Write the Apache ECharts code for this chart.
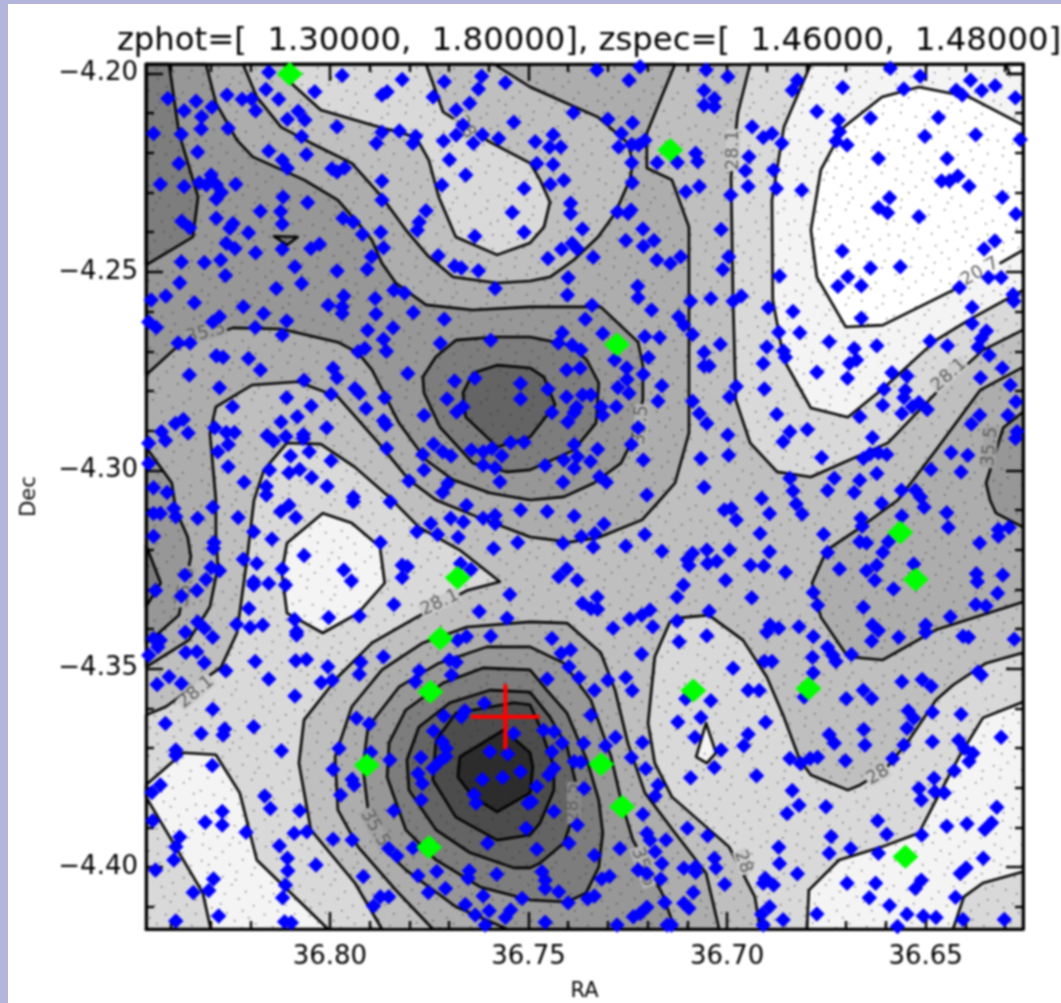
<!DOCTYPE html>
<html><head><meta charset="utf-8">
<style>
html,body{margin:0;padding:0;width:1061px;height:1003px;background:#b3b5dd;overflow:hidden}
#paper{position:absolute;left:8px;top:4px;right:0;bottom:0;background:#fff}
#chart{position:absolute;left:0;top:0;width:1061px;height:1003px;filter:blur(0.8px)}
</style>
<script src="https://cdn.jsdelivr.net/npm/echarts@6/dist/echarts.min.js"></script>
</head><body><div id="paper"></div><div id="chart"></div>
<script>
const raLeft=36.8463, raRight=36.6255, decTop=-4.1976, decBottom=-4.4156;
const raMajor=[36.80,36.75,36.70,36.65];
const raMinor=[36.84,36.83,36.82,36.81,36.79,36.78,36.77,36.76,36.74,36.73,36.72,36.71,36.69,36.68,36.67,36.66,36.64,36.63];
const decMajor=[-4.20,-4.25,-4.30,-4.35,-4.40];
const decMinor=[-4.21,-4.22,-4.23,-4.24,-4.26,-4.27,-4.28,-4.29,-4.31,-4.32,-4.33,-4.34,-4.36,-4.37,-4.38,-4.39,-4.41];
const titleText='zphot=[  1.30000,  1.80000], zspec=[  1.46000,  1.48000]';

const levelOuterTop=[[36.7131,-4.1976],[36.7202,-4.2150],[36.7202,-4.2238],[36.7139,-4.2268],[36.7096,-4.2387],[36.7096,-4.2906],[36.7131,-4.3032],[36.7169,-4.3075],[36.7214,-4.3125],[36.7325,-4.3170],[36.7396,-4.3181],[36.7496,-4.3168],[36.7640,-4.3113],[36.7733,-4.3075],[36.7801,-4.3024],[36.7869,-4.2941],[36.7929,-4.2873],[36.7980,-4.2815],[36.8081,-4.2777],[36.8196,-4.2785],[36.8287,-4.2840],[36.8302,-4.2906],[36.8287,-4.3075],[36.8287,-4.3158],[36.8282,-4.3244],[36.8302,-4.3344],[36.8355,-4.3428],[36.8463,-4.3496],[36.8463,-4.1976]];
const topHollow=[[36.8219,-4.1976],[36.8184,-4.2059],[36.8123,-4.2135],[36.8048,-4.2175],[36.7945,-4.2226],[36.7869,-4.2311],[36.7809,-4.2394],[36.7751,-4.2462],[36.7690,-4.2513],[36.7579,-4.2528],[36.7496,-4.2523],[36.7446,-4.2513],[36.7386,-4.2470],[36.7325,-4.2412],[36.7282,-4.2352],[36.7245,-4.2268],[36.7237,-4.2226],[36.7250,-4.2175],[36.7325,-4.2110],[36.7496,-4.2034],[36.7587,-4.1976]];
const topLight=[[36.8113,-4.1976],[36.8098,-4.2024],[36.8023,-4.2092],[36.7894,-4.2130],[36.7783,-4.2160],[36.7751,-4.2218],[36.7726,-4.2311],[36.7683,-4.2412],[36.7579,-4.2457],[36.7496,-4.2427],[36.7461,-4.2387],[36.7446,-4.2324],[36.7471,-4.2268],[36.7496,-4.2226],[36.7597,-4.2173],[36.7715,-4.2097],[36.7758,-4.1976]];
const ridge355=[[36.8463,-4.2760],[36.8385,-4.2689],[36.8244,-4.2641],[36.8123,-4.2644],[36.7980,-4.2677],[36.7929,-4.2704],[36.7894,-4.2747],[36.7826,-4.2881],[36.7758,-4.2974],[36.7690,-4.3024],[36.7597,-4.3057],[36.7496,-4.3075],[36.7411,-4.3067],[36.7335,-4.3032],[36.7267,-4.2982],[36.7242,-4.2931],[36.7212,-4.2823],[36.7212,-4.2735],[36.7224,-4.2677],[36.7318,-4.2588],[36.7496,-4.2588],[36.7640,-4.2596],[36.7758,-4.2583],[36.7834,-4.2528],[36.7869,-4.2478],[36.7894,-4.2420],[36.7929,-4.2377],[36.7980,-4.2319],[36.8065,-4.2268],[36.8194,-4.2210],[36.8234,-4.2168],[36.8287,-4.2074],[36.8312,-4.1976],[36.8463,-4.1976]];
const cornerPeak=[[36.8405,-4.1976],[36.8380,-4.2150],[36.8332,-4.2311],[36.8345,-4.2412],[36.8463,-4.2483],[36.8463,-4.1976]];
const smallTriangle=[[36.8141,-4.2410],[36.8081,-4.2412],[36.8108,-4.2432]];
const upperBlob=[[36.7766,-4.2765],[36.7733,-4.2714],[36.7683,-4.2672],[36.7587,-4.2664],[36.7496,-4.2664],[36.7396,-4.2684],[36.7353,-4.2722],[36.7323,-4.2780],[36.7330,-4.2881],[36.7386,-4.2949],[36.7496,-4.2999],[36.7554,-4.3004],[36.7640,-4.2982],[36.7723,-4.2891],[36.7763,-4.2805]];
const upperCore=[[36.7665,-4.2805],[36.7640,-4.2755],[36.7579,-4.2735],[36.7496,-4.2742],[36.7461,-4.2765],[36.7433,-4.2835],[36.7496,-4.2916],[36.7579,-4.2941],[36.7658,-4.2866]];
const leftEdge=[[36.8463,-4.2941],[36.8398,-4.3032],[36.8388,-4.3100],[36.8358,-4.3168],[36.8350,-4.3218],[36.8380,-4.3365],[36.8431,-4.3410],[36.8463,-4.3435]];
const leftEdgeCore=[[36.8463,-4.3188],[36.8426,-4.3284],[36.8463,-4.3344]];
const leftLight=[[36.8463,-4.3617],[36.8413,-4.3596],[36.8274,-4.3496],[36.8234,-4.3410],[36.8209,-4.3226],[36.8191,-4.3075],[36.8166,-4.2999],[36.8108,-4.2931],[36.8023,-4.2934],[36.7937,-4.2992],[36.7851,-4.3067],[36.7776,-4.3143],[36.7673,-4.3201],[36.7572,-4.3281],[36.7653,-4.3302],[36.7781,-4.3370],[36.7894,-4.3435],[36.7980,-4.3521],[36.8065,-4.3629],[36.8078,-4.3738],[36.8048,-4.3906],[36.7937,-4.4040],[36.7869,-4.4156],[36.8463,-4.4156]];
const lowerLeftPale=[[36.8463,-4.3793],[36.8370,-4.3712],[36.8287,-4.3717],[36.8227,-4.3813],[36.8184,-4.3982],[36.8005,-4.4156],[36.8300,-4.4156],[36.8320,-4.4065],[36.8463,-4.3823]];
const centerPale=[[36.8018,-4.3108],[36.7945,-4.3133],[36.7874,-4.3193],[36.7862,-4.3284],[36.7929,-4.3360],[36.8018,-4.3410],[36.8108,-4.3360],[36.8121,-4.3259],[36.8108,-4.3183]];
const rightLight=[[36.6917,-4.4156],[36.6930,-4.4075],[36.6995,-4.3949],[36.7139,-4.3823],[36.7182,-4.3738],[36.7199,-4.3637],[36.7182,-4.3470],[36.7144,-4.3382],[36.7121,-4.3372],[36.7046,-4.3365],[36.6960,-4.3428],[36.6900,-4.3521],[36.6857,-4.3622],[36.6817,-4.3730],[36.6789,-4.3768],[36.6696,-4.3806],[36.6665,-4.3793],[36.6603,-4.3755],[36.6542,-4.3680],[36.6474,-4.3579],[36.6431,-4.3541],[36.6348,-4.3486],[36.6255,-4.3460],[36.6255,-4.4156]];
const lowerRightPale=[[36.6799,-4.4156],[36.6794,-4.4058],[36.6718,-4.3982],[36.6610,-4.3949],[36.6517,-4.3914],[36.6474,-4.3831],[36.6416,-4.3722],[36.6356,-4.3624],[36.6255,-4.3584],[36.6255,-4.4012],[36.6356,-4.4040],[36.6404,-4.4075],[36.6431,-4.4156]];
const tinyPale=[[36.7053,-4.3637],[36.7028,-4.3712],[36.7051,-4.3738],[36.7078,-4.3722]];
const topRightLight=[[36.6942,-4.1976],[36.6973,-4.2100],[36.6990,-4.2261],[36.6985,-4.2571],[36.6978,-4.2823],[36.6942,-4.2931],[36.6874,-4.3004],[36.6789,-4.3017],[36.6595,-4.2931],[36.6474,-4.2805],[36.6356,-4.2697],[36.6255,-4.2646],[36.6255,-4.1976]];
const topRightPale=[[36.6789,-4.1976],[36.6857,-4.2135],[36.6887,-4.2319],[36.6885,-4.2571],[36.6857,-4.2722],[36.6789,-4.2843],[36.6696,-4.2866],[36.6603,-4.2790],[36.6474,-4.2672],[36.6391,-4.2621],[36.6255,-4.2546],[36.6255,-4.1976]];
const topRightWhite=[[36.6255,-4.2130],[36.6391,-4.2059],[36.6517,-4.2034],[36.6610,-4.2059],[36.6706,-4.2135],[36.6764,-4.2243],[36.6789,-4.2394],[36.6774,-4.2513],[36.6701,-4.2639],[36.6608,-4.2634],[36.6431,-4.2546],[36.6255,-4.2445]];
const cornerWhite=[[36.6298,-4.1976],[36.6288,-4.2001],[36.6255,-4.2001],[36.6255,-4.1976]];
const rightRise=[[36.6255,-4.2740],[36.6363,-4.2798],[36.6474,-4.2949],[36.6570,-4.3075],[36.6663,-4.3143],[36.6749,-4.3201],[36.6786,-4.3284],[36.6764,-4.3370],[36.6696,-4.3470],[36.6608,-4.3478],[36.6474,-4.3402],[36.6255,-4.3332]];
const rightRiseCore=[[36.6255,-4.2853],[36.6305,-4.2893],[36.6348,-4.3032],[36.6338,-4.3075],[36.6323,-4.3108],[36.6255,-4.3143]];
const ring1=[[36.7496,-4.3382],[36.7655,-4.3395],[36.7766,-4.3435],[36.7869,-4.3503],[36.7945,-4.3596],[36.7987,-4.3722],[36.7980,-4.3856],[36.7929,-4.3949],[36.7834,-4.4058],[36.7741,-4.4156],[36.7020,-4.4156],[36.7053,-4.4015],[36.7131,-4.3914],[36.7207,-4.3813],[36.7250,-4.3687],[36.7282,-4.3554],[36.7318,-4.3460],[36.7403,-4.3385]];
const ring2=[[36.7496,-4.3445],[36.7605,-4.3445],[36.7726,-4.3486],[36.7826,-4.3546],[36.7904,-4.3647],[36.7917,-4.3748],[36.7904,-4.3856],[36.7869,-4.3949],[36.7809,-4.4007],[36.7683,-4.4100],[36.7554,-4.4156],[36.7131,-4.4156],[36.7164,-4.4065],[36.7237,-4.3932],[36.7267,-4.3831],[36.7292,-4.3722],[36.7343,-4.3579],[36.7411,-4.3486]];
const ring3=[[36.7496,-4.3503],[36.7615,-4.3498],[36.7715,-4.3536],[36.7809,-4.3604],[36.7851,-4.3687],[36.7856,-4.3773],[36.7809,-4.3906],[36.7733,-4.3982],[36.7622,-4.4050],[36.7496,-4.4083],[36.7403,-4.4088],[36.7355,-4.4065],[36.7323,-4.4000],[36.7313,-4.3914],[36.7323,-4.3831],[36.7353,-4.3730],[36.7403,-4.3612],[36.7454,-4.3554]];
const ring4=[[36.7496,-4.3559],[36.7597,-4.3554],[36.7698,-4.3586],[36.7776,-4.3647],[36.7806,-4.3730],[36.7801,-4.3806],[36.7733,-4.3906],[36.7647,-4.3964],[36.7537,-4.4002],[36.7496,-4.4002],[36.7471,-4.3990],[36.7411,-4.3939],[36.7391,-4.3881],[36.7381,-4.3788],[36.7403,-4.3697],[36.7446,-4.3622]];
const ring5=[[36.7537,-4.3586],[36.7683,-4.3612],[36.7733,-4.3680],[36.7741,-4.3780],[36.7683,-4.3874],[36.7579,-4.3932],[36.7496,-4.3919],[36.7471,-4.3889],[36.7436,-4.3806],[36.7436,-4.3748],[36.7471,-4.3647],[36.7496,-4.3591]];
const ring6=[[36.7562,-4.3654],[36.7673,-4.3722],[36.7678,-4.3773],[36.7640,-4.3823],[36.7579,-4.3861],[36.7496,-4.3813],[36.7489,-4.3748],[36.7496,-4.3712]];

const contourLabels=[['28.1',36.6985,-4.2193,90],['20.7',36.6363,-4.2500,30],['28.1',36.6441,-4.2760,42],['35.5',36.6338,-4.2941,85],['35.5',36.7217,-4.2886,85],['35.5',36.8312,-4.2654,15],['28',36.7660,-4.2135,-60],['28.1',36.8337,-4.3559,40],['28.1',36.7723,-4.3334,25],['35.5',36.8363,-4.3294,80],['35.5',36.7887,-4.3902,-60],['28.5',36.7386,-4.3838,90],['35.5',36.7212,-4.4000,-70],['28',36.6620,-4.3768,30],['28',36.6960,-4.3987,-70]];
const labelBacks=['#cbcbcb','#f9f9f9','#cbcbcb','#a2a2a2','#b4b4b4','#a2a2a2','#cbcbcb','#cbcbcb','#cbcbcb','#a2a2a2','#a2a2a2','#8a8a8a','#b4b4b4','#cbcbcb','#cbcbcb'];

const specObjects=[[36.8101,-4.2001],[36.7143,-4.2193],[36.7277,-4.2683],[36.7678,-4.3271],[36.7722,-4.3424],[36.7747,-4.3558],[36.7907,-4.3743],[36.7750,-4.3950],[36.7317,-4.3741],[36.7264,-4.3848],[36.7085,-4.3555],[36.6795,-4.3550],[36.6564,-4.3157],[36.6525,-4.3275],[36.6551,-4.3974]];
const targetPosition=[[36.7558,-4.3621]];
const blueGalaxies=[
[36.8154,-4.1997],[36.7969,-4.2005],[36.7818,-4.2015],[36.7712,-4.2021],[36.7618,-4.2007],[36.7558,-4.2023],[36.8038,-4.2046],[36.8161,-4.2040],[36.7856,-4.2046],[36.7869,-4.2054],[36.7626,-4.2039],[36.8408,-4.2063],[36.8337,-4.2070],[36.8259,-4.2054],[36.8221,-4.2065],[36.8197,-4.2064],[36.8129,-4.2065],[36.7740,-4.2059],[36.7648,-4.2075],[36.7682,-4.2092],[36.8367,-4.2094],[36.8297,-4.2085],[36.8187,-4.2094],[36.8080,-4.2095],[36.8063,-4.2117],[36.8107,-4.2115],[36.8323,-4.2109],[36.7537,-4.2123],[36.7665,-4.2130],[36.8324,-4.2140],[36.8444,-4.2151],[36.8374,-4.2153],[36.8256,-4.2138],[36.7982,-4.2134],[36.7869,-4.2148],[36.7825,-4.2145],[36.7682,-4.2155],[36.7616,-4.2154],[36.7575,-4.2164],[36.7639,-4.2176],[36.7784,-4.2158],[36.7791,-4.2176],[36.7883,-4.2176],[36.8071,-4.2159],[36.7714,-4.2170],[36.8154,-4.2195],[36.8333,-4.2198],[36.8059,-4.2204],[36.8120,-4.2218],[36.8380,-4.2227],[36.8107,-4.2239],[36.7699,-4.2217],[36.7963,-4.2238],[36.7995,-4.2240],[36.7982,-4.2248],[36.7658,-4.2256],[36.8299,-4.2256],[36.8427,-4.2279],[36.8367,-4.2285],[36.8329,-4.2275],[36.8311,-4.2281],[36.8286,-4.2280],[36.8237,-4.2279],[36.7869,-4.2271],[36.7718,-4.2281],[36.7511,-4.2290],[36.8273,-4.2300],[36.8286,-4.2316],[36.8118,-4.2311],[36.8056,-4.2325],[36.7869,-4.2319],[36.8175,-4.2347],[36.8124,-4.2348],[36.7758,-4.2346],[36.7541,-4.2350],[36.7775,-4.2374],[36.7967,-4.2365],[36.8286,-4.2365],[36.8120,-4.2379],[36.8373,-4.2372],[36.8244,-4.2378],[36.8353,-4.2389],[36.7941,-4.2374],[36.8252,-4.2390],[36.8205,-4.2401],[36.7918,-4.2405],[36.7872,-4.2400],[36.7780,-4.2395],[36.7635,-4.2410],[36.7511,-4.2400],[36.8261,-4.2428],[36.8239,-4.2441],[36.8026,-4.2430],[36.8048,-4.2441],[36.8187,-4.2452],[36.8120,-4.2443],[36.7865,-4.2439],[36.7895,-4.2462],[36.7727,-4.2459],[36.8374,-4.2475],[36.8316,-4.2476],[36.8275,-4.2470],[36.7686,-4.2485],[36.7669,-4.2490],[36.7626,-4.2497],[36.8088,-4.2487],[36.7982,-4.2498],[36.7906,-4.2493],[36.8263,-4.2509],[36.8378,-4.2527],[36.8071,-4.2529],[36.7584,-4.2542],[36.8135,-4.2542],[36.7839,-4.2546],[36.7812,-4.2553],[36.8413,-4.2561],[36.8450,-4.2571],[36.7965,-4.2561],[36.7886,-4.2567],[36.8341,-4.2578],[36.8218,-4.2588],[36.8004,-4.2584],[36.7969,-4.2588],[36.8167,-4.2605],[36.7969,-4.2605],[36.7884,-4.2606],[36.7790,-4.2602],[36.8278,-4.2613],[36.8295,-4.2626],[36.8109,-4.2624],[36.7712,-4.2619],[36.8456,-4.2626],[36.8437,-4.2640],[36.7841,-4.2641],[36.7905,-4.2647],[36.8120,-4.2659],[36.8188,-4.2640],[36.7865,-4.2670],[36.8382,-4.2679],[36.8352,-4.2679],[36.7722,-4.2680],[36.7595,-4.2672],[36.7912,-4.2693],[36.7929,-4.2701],[36.7858,-4.2700],[36.8286,-4.2711],[36.8269,-4.2715],[36.8205,-4.2718],[36.7992,-4.2743],[36.8175,-4.2747],[36.7804,-4.2756],[36.7982,-4.2767],[36.8354,-4.2760],[36.8065,-4.2773],[36.7635,-4.2768],[36.7686,-4.2775],[36.7520,-4.2781],[36.8278,-4.2792],[36.7937,-4.2794],[36.7926,-4.2806],[36.7997,-4.2808],[36.8109,-4.2817],[36.7862,-4.2817],[36.7705,-4.2820],[36.7520,-4.2820],[36.8245,-4.2840],[36.8047,-4.2838],[36.7909,-4.2844],[36.7665,-4.2840],[36.7681,-4.2853],[36.8369,-4.2872],[36.8389,-4.2882],[36.8082,-4.2865],[36.8123,-4.2878],[36.7763,-4.2861],[36.7865,-4.2875],[36.7859,-4.2886],[36.8008,-4.2893],[36.8290,-4.2893],[36.8424,-4.2903],[36.8261,-4.2905],[36.8240,-4.2905],[36.8357,-4.2906],[36.8067,-4.2910],[36.8158,-4.2912],[36.8142,-4.2926],[36.8111,-4.2915],[36.8067,-4.2920],[36.8414,-4.2925],[36.8456,-4.2932],[36.8256,-4.2935],[36.7739,-4.2934],[36.7545,-4.2930],[36.7511,-4.2929],[36.7857,-4.2945],[36.7766,-4.2960],[36.7716,-4.2953],[36.7695,-4.2964],[36.7644,-4.2949],[36.7614,-4.2953],[36.7592,-4.2945],[36.7567,-4.2963],[36.8282,-4.2953],[36.8099,-4.2964],[36.8052,-4.2953],[36.7997,-4.2976],[36.7614,-4.2987],[36.7584,-4.2994],[36.8456,-4.2983],[36.8256,-4.2991],[36.8152,-4.2999],[36.8103,-4.3006],[36.8076,-4.2998],[36.7763,-4.2999],[36.8046,-4.3018],[36.7801,-4.3027],[36.8216,-4.3030],[36.7572,-4.3029],[36.7703,-4.3033],[36.8444,-4.3044],[36.8410,-4.3056],[36.8007,-4.3041],[36.8160,-4.3041],[36.7716,-4.3056],[36.7941,-4.3067],[36.8160,-4.3062],
[36.7328,-4.1991],[36.7219,-4.1983],[36.7053,-4.1991],[36.6998,-4.2008],[36.7247,-4.2017],[36.6823,-4.2017],[36.6514,-4.2007],[36.6589,-4.1987],[36.6387,-4.2017],[36.6325,-4.2031],[36.6709,-4.2035],[36.6836,-4.2042],[36.7058,-4.2043],[36.6555,-4.2039],[36.6423,-4.2042],[36.6408,-4.2054],[36.6359,-4.2043],[36.6274,-4.2061],[36.7032,-4.2063],[36.7058,-4.2080],[36.7032,-4.2084],[36.7387,-4.2099],[36.6774,-4.2096],[36.6639,-4.2112],[36.6468,-4.2111],[36.7300,-4.2115],[36.7238,-4.2124],[36.6720,-4.2117],[36.6937,-4.2134],[36.7266,-4.2151],[36.6717,-4.2147],[36.6502,-4.2158],[36.6374,-4.2154],[36.6909,-4.2161],[36.6887,-4.2151],[36.7438,-4.2154],[36.7483,-4.2172],[36.7207,-4.2168],[36.7447,-4.2186],[36.7419,-4.2185],[36.7273,-4.2185],[36.7240,-4.2179],[36.7223,-4.2180],[36.6862,-4.2176],[36.6726,-4.2170],[36.6698,-4.2180],[36.6262,-4.2166],[36.7079,-4.2201],[36.6945,-4.2210],[36.6619,-4.2214],[36.6446,-4.2214],[36.7479,-4.2227],[36.7438,-4.2229],[36.7074,-4.2222],[36.7125,-4.2224],[36.7176,-4.2225],[36.7240,-4.2225],[36.6954,-4.2245],[36.6883,-4.2243],[36.6460,-4.2271],[36.6440,-4.2271],[36.6419,-4.2258],[36.7239,-4.2275],[36.7445,-4.2279],[36.7411,-4.2269],[36.6947,-4.2285],[36.7070,-4.2285],[36.6876,-4.2290],[36.6812,-4.2294],[36.6391,-4.2284],[36.7104,-4.2298],[36.6991,-4.2306],[36.6591,-4.2313],[36.6307,-4.2312],[36.7394,-4.2327],[36.7242,-4.2344],[36.7276,-4.2349],[36.7394,-4.2353],[36.7249,-4.2353],[36.6619,-4.2338],[36.6596,-4.2351],[36.6517,-4.2361],[36.6273,-4.2354],[36.7015,-4.2393],[36.7212,-4.2392],[36.7364,-4.2392],[36.7255,-4.2421],[36.7184,-4.2421],[36.7211,-4.2435],[36.7390,-4.2428],[36.6326,-4.2422],[36.6353,-4.2442],[36.7417,-4.2443],[36.7377,-4.2442],[36.6710,-4.2447],[36.7117,-4.2462],[36.6996,-4.2462],[36.7451,-4.2466],[36.7337,-4.2463],[36.7177,-4.2470],[36.7143,-4.2479],[36.6639,-4.2490],[36.6564,-4.2487],[36.7011,-4.2494],[36.6868,-4.2510],[36.7400,-4.2515],[36.6696,-4.2512],[36.6342,-4.2514],[36.6310,-4.2514],[36.7225,-4.2536],[36.6721,-4.2536],[36.6662,-4.2535],[36.6415,-4.2539],[36.7402,-4.2558],[36.7224,-4.2565],[36.6280,-4.2557],[36.6278,-4.2574],[36.7041,-4.2567],[36.7092,-4.2574],[36.6964,-4.2561],[36.6985,-4.2574],[36.7340,-4.2584],[36.6896,-4.2590],[36.7190,-4.2596],[36.6834,-4.2600],[36.6383,-4.2589],[36.7357,-4.2619],[36.7122,-4.2613],[36.6662,-4.2617],[36.7109,-4.2634],[36.6383,-4.2630],[36.6347,-4.2649],[36.7415,-4.2653],[36.7313,-4.2655],[36.7087,-4.2658],[36.6870,-4.2652],[36.6817,-4.2653],[36.7207,-4.2663],[36.7170,-4.2665],[36.6360,-4.2668],[36.6743,-4.2676],[36.6489,-4.2674],[36.7425,-4.2679],[36.7390,-4.2684],[36.7017,-4.2682],[36.6900,-4.2689],[36.6623,-4.2686],[36.6445,-4.2686],[36.6368,-4.2689],[36.7368,-4.2697],[36.6680,-4.2693],[36.6858,-4.2699],[36.7058,-4.2703],[36.6340,-4.2710],[36.7198,-4.2716],[36.6853,-4.2715],[36.7283,-4.2722],[36.6674,-4.2722],[36.6909,-4.2731],[36.6692,-4.2731],[36.7058,-4.2737],[36.7045,-4.2737],[36.6307,-4.2742],[36.7404,-4.2747],[36.7370,-4.2743],[36.7253,-4.2742],[36.6774,-4.2753],[36.6585,-4.2754],[36.6547,-4.2762],[36.7211,-4.2758],[36.6362,-4.2767],[36.6697,-4.2768],[36.7252,-4.2771],[36.6605,-4.2796],[36.7275,-4.2791],[36.7164,-4.2787],[36.6906,-4.2795],[36.6977,-4.2789],[36.6551,-4.2798],[36.7451,-4.2796],[36.7247,-4.2806],[36.6555,-4.2817],[36.6287,-4.2785],[36.7404,-4.2815],[36.7364,-4.2810],[36.7343,-4.2810],[36.6994,-4.2815],[36.7174,-4.2826],[36.7087,-4.2826],[36.7317,-4.2840],[36.7279,-4.2840],[36.7379,-4.2841],[36.6608,-4.2836],[36.6517,-4.2829],[36.6534,-4.2840],[36.6496,-4.2847],[36.7441,-4.2854],[36.7313,-4.2861],[36.7385,-4.2854],[36.7070,-4.2857],[36.6875,-4.2859],[36.6666,-4.2865],[36.6560,-4.2857],[36.6364,-4.2861],[36.6293,-4.2861],[36.6273,-4.2827],[36.7401,-4.2878],[36.7051,-4.2882],[36.6385,-4.2883],[36.7224,-4.2893],[36.6798,-4.2897],[36.6842,-4.2903],[36.6998,-4.2911],[36.6270,-4.2903],[36.6274,-4.2920],[36.6859,-4.2928],[36.6634,-4.2917],[36.7241,-4.2935],[36.7385,-4.2935],[36.7326,-4.2947],[36.7458,-4.2988],[36.7411,-4.2974],[36.7377,-4.2966],[36.7385,-4.2995],[36.7344,-4.2978],[36.7211,-4.2974],[36.7066,-4.2970],[36.6996,-4.2962],[36.6762,-4.2968],[36.6436,-4.2955],[36.6394,-4.2962],[36.6657,-4.2970],[36.6640,-4.2959],[36.6619,-4.2956],[36.6598,-4.2960],[36.6487,-4.2998],[36.6623,-4.3008],[36.6411,-4.3004],[36.7321,-4.3016],[36.7304,-4.3030],[36.7413,-4.3030],[36.6842,-4.3020],[36.6730,-4.3020],[36.6666,-4.3025],[36.7058,-4.3043],[36.7202,-4.3062],[36.6834,-4.3052],[36.6747,-4.3051],[36.6680,-4.3056],[36.6561,-4.3050],[36.6526,-4.3050],[36.6913,-4.3071],[36.6513,-4.3067],
[36.8444,-4.3109],[36.8427,-4.3109],[36.8393,-4.3096],[36.8388,-4.3117],[36.8295,-4.3093],[36.8333,-4.3121],[36.8231,-4.3119],[36.8124,-4.3104],[36.8103,-4.3088],[36.8086,-4.3119],[36.7941,-4.3079],[36.7848,-4.3079],[36.7656,-4.3088],[36.7746,-4.3134],[36.7696,-4.3121],[36.7664,-4.3130],[36.7614,-4.3121],[36.7584,-4.3113],[36.7584,-4.3134],[36.7520,-4.3100],[36.8192,-4.3155],[36.8146,-4.3173],[36.8444,-4.3166],[36.7781,-4.3155],[36.7729,-4.3162],[36.7677,-4.3169],[36.7873,-4.3182],[36.8292,-4.3182],[36.7588,-4.3197],[36.7527,-4.3182],[36.8293,-4.3197],[36.8065,-4.3215],[36.8218,-4.3224],[36.8184,-4.3235],[36.8299,-4.3245],[36.8278,-4.3253],[36.8120,-4.3249],[36.7965,-4.3251],[36.7818,-4.3239],[36.7805,-4.3243],[36.7671,-4.3235],[36.7645,-4.3250],[36.8365,-4.3264],[36.8312,-4.3275],[36.7946,-4.3279],[36.7818,-4.3270],[36.8192,-4.3281],[36.8154,-4.3285],[36.8112,-4.3289],[36.8192,-4.3289],[36.8439,-4.3303],[36.8335,-4.3303],[36.8374,-4.3317],[36.7839,-4.3338],[36.8204,-4.3348],[36.8003,-4.3371],[36.7926,-4.3367],[36.7624,-4.3356],[36.7554,-4.3373],[36.7547,-4.3313],[36.8089,-4.3376],[36.8333,-4.3382],[36.8235,-4.3388],[36.8201,-4.3396],[36.8169,-4.3390],[36.8316,-4.3398],[36.8364,-4.3408],[36.8084,-4.3407],[36.8084,-4.3415],[36.7656,-4.3419],[36.7678,-4.3428],[36.7595,-4.3418],[36.8444,-4.3424],[36.8427,-4.3428],[36.8295,-4.3421],[36.8433,-4.3445],[36.8456,-4.3466],[36.8363,-4.3459],[36.8335,-4.3457],[36.8086,-4.3480],[36.8059,-4.3477],[36.8188,-4.3482],[36.7865,-4.3470],[36.7922,-4.3484],[36.8316,-4.3485],[36.7699,-4.3478],[36.7682,-4.3484],[36.8005,-4.3495],[36.7775,-4.3505],[36.8262,-4.3505],[36.7926,-4.3514],[36.7694,-4.3516],[36.8405,-4.3520],[36.8154,-4.3526],[36.8374,-4.3537],[36.7994,-4.3529],[36.8022,-4.3535],[36.7785,-4.3533],[36.8435,-4.3540],[36.8088,-4.3569],[36.7611,-4.3587],[36.7660,-4.3606],[36.8295,-4.3602],[36.7933,-4.3625],[36.7901,-4.3639],[36.7713,-4.3619],[36.8414,-4.3638],[36.7669,-4.3621],[36.8192,-4.3646],[36.8265,-4.3652],[36.8269,-4.3667],[36.8324,-4.3663],[36.7739,-4.3657],[36.7537,-4.3663],[36.7717,-4.3684],[36.8388,-4.3705],[36.8388,-4.3718],[36.7977,-4.3701],[36.7707,-4.3701],[36.7708,-4.3721],[36.8122,-4.3707],[36.7597,-4.3709],[36.7552,-4.3715],[36.7897,-4.3711],[36.7771,-4.3724],[36.7849,-4.3730],[36.7724,-4.3734],[36.7741,-4.3751],[36.7992,-4.3754],[36.8296,-4.3744],[36.7778,-4.3764],[36.7520,-4.3760],[36.7944,-4.3779],[36.7939,-4.3793],[36.7767,-4.3789],[36.7616,-4.3779],[36.7565,-4.3774],[36.8427,-4.3793],[36.8448,-4.3812],[36.7973,-4.3818],[36.8164,-4.3821],[36.7637,-4.3817],[36.7770,-4.3831],[36.8150,-4.3852],[36.7632,-4.3839],[36.7839,-4.3858],[36.8076,-4.3858],[36.7501,-4.3839],[36.8271,-4.3860],[36.8314,-4.3887],[36.8271,-4.3894],[36.8446,-4.3883],[36.8211,-4.3912],[36.8058,-4.3911],[36.8090,-4.3915],[36.7506,-4.3902],[36.7992,-4.3930],[36.7944,-4.3932],[36.8127,-4.3946],[36.7603,-4.3940],[36.8378,-4.3924],[36.8388,-4.3949],[36.7852,-4.3953],[36.7791,-4.3952],[36.7831,-4.3972],[36.8107,-4.3978],[36.8393,-4.3982],[36.8035,-4.3995],[36.8439,-4.4007],[36.8106,-4.4009],[36.7916,-4.4024],[36.7778,-4.4022],[36.7731,-4.4011],[36.7649,-4.4009],[36.7580,-4.4018],[36.7652,-4.4028],[36.8293,-4.4030],[36.8112,-4.4045],[36.7709,-4.4054],[36.8344,-4.4064],[36.8305,-4.4059],[36.7752,-4.4064],[36.8119,-4.4077],[36.7873,-4.4075],[36.7852,-4.4075],[36.7614,-4.4073],[36.7516,-4.4079],[36.7890,-4.4098],[36.7659,-4.4094],[36.7634,-4.4121],[36.7599,-4.4110],[36.7545,-4.4108],[36.7558,-4.4127],[36.8280,-4.4123],[36.8388,-4.4136],[36.8114,-4.4138],[36.8097,-4.4140],[36.7609,-4.4146],
[36.7453,-4.3104],[36.7385,-4.3115],[36.7310,-4.3135],[36.6989,-4.3096],[36.7007,-4.3100],[36.6977,-4.3125],[36.6893,-4.3109],[36.6826,-4.3085],[36.6811,-4.3110],[36.6663,-4.3121],[36.6660,-4.3141],[36.6611,-4.3083],[36.6560,-4.3115],[36.6504,-4.3093],[36.6447,-4.3107],[36.6443,-4.3144],[36.6917,-4.3159],[36.7207,-4.3162],[36.7367,-4.3167],[36.7333,-4.3159],[36.6757,-4.3161],[36.6317,-4.3149],[36.6290,-4.3144],[36.6317,-4.3166],[36.6666,-4.3180],[36.6649,-4.3183],[36.6594,-4.3180],[36.6364,-4.3183],[36.7413,-4.3184],[36.7337,-4.3193],[36.7255,-4.3191],[36.7164,-4.3204],[36.7051,-4.3201],[36.6994,-4.3201],[36.6893,-4.3205],[36.6608,-4.3207],[36.6747,-4.3207],[36.7087,-4.3209],[36.7100,-4.3225],[36.7096,-4.3240],[36.7049,-4.3235],[36.7026,-4.3229],[36.6941,-4.3239],[36.6907,-4.3241],[36.6530,-4.3236],[36.6623,-4.3239],[36.7404,-4.3249],[36.7424,-4.3268],[36.7377,-4.3277],[36.6853,-4.3257],[36.6717,-4.3249],[36.6649,-4.3253],[36.6372,-4.3261],[36.6628,-4.3277],[36.6370,-4.3281],[36.6306,-4.3264],[36.7004,-4.3277],[36.7110,-4.3289],[36.6581,-4.3299],[36.6783,-4.3308],[36.7126,-4.3319],[36.6938,-4.3321],[36.6319,-4.3310],[36.7327,-4.3320],[36.7364,-4.3335],[36.7343,-4.3348],[36.7326,-4.3350],[36.6772,-4.3340],[36.6657,-4.3345],[36.6374,-4.3338],[36.6348,-4.3342],[36.7194,-4.3352],[36.7215,-4.3365],[36.7045,-4.3355],[36.7245,-4.3375],[36.6438,-4.3369],[36.7126,-4.3380],[36.7187,-4.3394],[36.7287,-4.3398],[36.6892,-4.3390],[36.6870,-4.3398],[36.6819,-4.3394],[36.6900,-4.3408],[36.6634,-4.3390],[36.6619,-4.3404],[36.6500,-4.3390],[36.6500,-4.3408],[36.6406,-4.3418],[36.6392,-4.3421],[36.6277,-4.3426],[36.6783,-4.3419],[36.6568,-4.3421],[36.6636,-4.3430],[36.7441,-4.3424],[36.7051,-4.3417],[36.7121,-4.3432],[36.6747,-4.3446],[36.7418,-4.3461],[36.7394,-4.3453],[36.7215,-4.3463],[36.6734,-4.3466],[36.6785,-4.3471],[36.6906,-4.3481],[36.6887,-4.3482],[36.6687,-4.3464],[36.6726,-4.3482],[36.7398,-4.3495],[36.6985,-4.3499],[36.6368,-4.3508],[36.6360,-4.3516],[36.6783,-4.3510],[36.7373,-4.3523],[36.7255,-4.3522],[36.7300,-4.3529],[36.7334,-4.3554],[36.7239,-4.3555],[36.7453,-4.3526],[36.6560,-4.3533],[36.6509,-4.3527],[36.6486,-4.3544],[36.6947,-4.3554],[36.6919,-4.3555],[36.6657,-4.3554],[36.6700,-4.3576],[36.6636,-4.3575],[36.7041,-4.3581],[36.7104,-4.3576],[36.6806,-4.3571],[36.7343,-4.3617],[36.6544,-4.3606],[36.6530,-4.3625],[36.6483,-4.3610],[36.6411,-4.3615],[36.7066,-4.3623],[36.7124,-4.3634],[36.6903,-4.3635],[36.6547,-4.3650],[36.6656,-4.3653],[36.6947,-4.3665],[36.6743,-4.3666],[36.7281,-4.3673],[36.7462,-4.3655],[36.7435,-4.3659],[36.7081,-4.3673],[36.6310,-4.3673],[36.6483,-4.3684],[36.6417,-4.3680],[36.7361,-4.3688],[36.7213,-4.3686],[36.6958,-4.3694],[36.6730,-4.3688],[36.6653,-4.3692],[36.6555,-4.3692],[36.6402,-4.3701],[36.7306,-4.3694],[36.7441,-4.3709],[36.7415,-4.3687],[36.7015,-4.3705],[36.6381,-4.3713],[36.6842,-4.3726],[36.6772,-4.3723],[36.6791,-4.3726],[36.6702,-4.3732],[36.6583,-4.3726],[36.6391,-4.3734],[36.7385,-4.3734],[36.7241,-4.3724],[36.6815,-4.3739],[36.7368,-4.3736],[36.7032,-4.3749],[36.7205,-4.3752],[36.7449,-4.3768],[36.7436,-4.3751],[36.6428,-4.3757],[36.6926,-4.3770],[36.7092,-4.3775],[36.6479,-4.3776],[36.7479,-4.3797],[36.7360,-4.3802],[36.7174,-4.3793],[36.6836,-4.3807],[36.6517,-4.3802],[36.6477,-4.3810],[36.6453,-4.3813],[36.7181,-4.3821],[36.6511,-4.3831],[36.6819,-4.3844],[36.6751,-4.3848],[36.6321,-4.3849],[36.7436,-4.3860],[36.6849,-4.3865],[36.7212,-4.3867],[36.7492,-4.3835],[36.6621,-4.3883],[36.6447,-4.3897],[36.6396,-4.3891],[36.6334,-4.3888],[36.6351,-4.3905],[36.7377,-4.3894],[36.7100,-4.3902],[36.7202,-4.3915],[36.6598,-4.3917],[36.7049,-4.3921],[36.6738,-4.3923],[36.7194,-4.3932],[36.7154,-4.3932],[36.6510,-4.3919],[36.7398,-4.3940],[36.6870,-4.3950],[36.7479,-4.3955],[36.7270,-4.3953],[36.6689,-4.3953],[36.6743,-4.3965],[36.7181,-4.3961],[36.6619,-4.3965],[36.7334,-4.3970],[36.7032,-4.3978],[36.6355,-4.3978],[36.7164,-4.3991],[36.6868,-4.3991],[36.7028,-4.4002],[36.7109,-4.4003],[36.7079,-4.3999],[36.7224,-4.4007],[36.7079,-4.4013],[36.6398,-4.4002],[36.6413,-4.4016],[36.6823,-4.4017],[36.7466,-4.4012],[36.7167,-4.4030],[36.7202,-4.4016],[36.7296,-4.4023],[36.7316,-4.4030],[36.6904,-4.4028],[36.7458,-4.4033],[36.6909,-4.4041],[36.6883,-4.4045],[36.7006,-4.4043],[36.6698,-4.4041],[36.6626,-4.4041],[36.6511,-4.4033],[36.6526,-4.4054],[36.7458,-4.4054],[36.7424,-4.4062],[36.7085,-4.4064],[36.6642,-4.4077],[36.6425,-4.4076],[36.7334,-4.4073],[36.7351,-4.4080],[36.7400,-4.4090],[36.7157,-4.4089],[36.7109,-4.4091],[36.7096,-4.4104],[36.6893,-4.4100],[36.6591,-4.4097],[36.7202,-4.4101],[36.7219,-4.4117],[36.7236,-4.4125],[36.6913,-4.4119],[36.6774,-4.4118],[36.6859,-4.4133],[36.6547,-4.4119],[36.6506,-4.4123],[36.6474,-4.4127],[36.6302,-4.4132],[36.6406,-4.4132],[36.7458,-4.4139],[36.7277,-4.4146],[36.7151,-4.4146],[36.7140,-4.4146],[36.6909,-4.4146],[36.6571,-4.4150]
];

const contourLayers=[
[levelOuterTop,'#adadad'],[topHollow,'#bfbfbf'],[topLight,'#d9d9d9'],[ridge355,'#979797'],[cornerPeak,'#7d7d7d'],[smallTriangle,'#7d7d7d'],[upperBlob,'#7d7d7d'],[upperCore,'#646464'],[leftEdge,'#979797'],[leftEdgeCore,'#7d7d7d'],
[leftLight,'#d9d9d9'],[lowerLeftPale,'#f4f4f4'],[centerPale,'#f4f4f4'],[rightLight,'#d9d9d9'],[lowerRightPale,'#f4f4f4'],[tinyPale,'#f4f4f4'],[topRightLight,'#d9d9d9'],[topRightPale,'#f4f4f4'],[topRightWhite,'#ffffff'],[cornerWhite,'#ffffff'],
[rightRise,'#adadad'],[rightRiseCore,'#979797'],[ring1,'#adadad'],[ring2,'#979797'],[ring3,'#7d7d7d'],[ring4,'#646464'],[ring5,'#4c4c4c'],[ring6,'#2c2c2c']];

/* printed speckle texture of the plot paper */
const speckleTile=[[3,5],[17,2],[31,9],[44,4],[60,7],[78,3],[91,10],[9,17],[24,21],[38,16],[53,19],[69,15],[84,22],[2,30],[15,34],[33,29],[47,36],[62,31],[75,38],[94,33],[7,45],[22,48],[40,43],[55,50],[71,46],[87,49],[12,60],[28,57],[36,65],[50,62],[66,59],[81,64],[96,58],[5,73],[19,76],[43,72],[58,78],[74,71],[89,77],[31,84],[11,88],[49,90],[67,86],[83,92],[10,9],[37,24],[56,12],[73,27],[90,18],[26,38],[13,52],[64,41],[44,55],[79,55],[96,44],[20,67],[57,68],[34,77],[73,81],[92,70],[4,84],[24,91],[58,93],[41,82]];
const tile=document.createElement('canvas');tile.width=99;tile.height=95;
const tileCtx=tile.getContext('2d');tileCtx.fillStyle='rgba(30,30,30,0.7)';
speckleTile.forEach(p=>tileCtx.fillRect(p[0],p[1],1.4,1.4));

const fontName='"DejaVu Sans"';
const inkColor='#000000';
const axisCommon={type:'value',splitLine:{show:false},z:2};
function xAxisOf(position,ticks,len,showLine,withLabels){
  return Object.assign({},axisCommon,{position,min:raRight,max:raLeft,inverse:true,
    axisLine:{show:showLine,onZero:false,lineStyle:{color:inkColor,width:3}},
    axisTick:{show:true,inside:true,length:len,customValues:ticks,lineStyle:{color:inkColor,width:2.4}},
    axisLabel:{show:withLabels,customValues:raMajor,margin:15,color:'#000',fontFamily:fontName,fontSize:26,formatter:v=>v.toFixed(2)},
    name:withLabels?'RA':'',nameLocation:'middle',nameGap:52,nameTextStyle:{color:'#000',fontFamily:fontName,fontSize:21}});
}
function yAxisOf(position,ticks,len,showLine,withLabels){
  return Object.assign({},axisCommon,{position,min:decBottom,max:decTop,
    axisLine:{show:showLine,onZero:false,lineStyle:{color:inkColor,width:3}},
    axisTick:{show:true,inside:true,length:len,customValues:ticks,lineStyle:{color:inkColor,width:2.4}},
    axisLabel:{show:withLabels,customValues:decMajor,margin:8,color:'#000',fontFamily:fontName,fontSize:26,formatter:v=>'\u2212'+Math.abs(v).toFixed(2)},
    name:withLabels?'Dec':'',nameLocation:'middle',nameGap:106,nameRotate:90,nameTextStyle:{color:'#000',fontFamily:fontName,fontSize:21}});
}
const chart=echarts.init(document.getElementById('chart'),null,{renderer:'canvas'});
chart.setOption({
  animation:false,
  title:{text:titleText,left:584,top:21,textAlign:'center',textStyle:{fontFamily:fontName,fontWeight:'normal',fontSize:32.3,color:'#000'}},
  grid:{left:146,top:64,right:38,bottom:74,outerBoundsMode:'none'},
  xAxis:[xAxisOf('bottom',raMajor,17,true,true),xAxisOf('top',raMajor,17,true,false),xAxisOf('bottom',raMinor,8,false,false),xAxisOf('top',raMinor,8,false,false)],
  yAxis:[yAxisOf('left',decMajor,17,true,true),yAxisOf('right',decMajor,17,true,false),yAxisOf('left',decMinor,8,false,false),yAxisOf('right',decMinor,8,false,false)],
  series:[
   {type:'custom',z:1,silent:true,clip:false,coordinateSystem:'cartesian2d',
    data:[[raLeft,decTop,-1]].concat(contourLayers.map((l,i)=>[raLeft,decTop,i])),
    renderItem(params,api){
      const i=api.value(2);
      if(i<0){
        const a=api.coord([raLeft,decTop]),b=api.coord([raRight,decBottom]);
        return {type:'rect',shape:{x:a[0],y:a[1],width:b[0]-a[0],height:b[1]-a[1]},style:{fill:'#bfbfbf'}};
      }
      const l=contourLayers[i];
      return {type:'polygon',shape:{points:l[0].map(p=>api.coord(p))},style:{fill:l[1],stroke:'#000000',lineWidth:2.6,lineJoin:'round'}};
    }},
   {type:'custom',z:1,silent:true,clip:false,coordinateSystem:'cartesian2d',
    data:[[raLeft,decTop]],
    renderItem(params,api){
      const a=api.coord([raLeft,decTop]),b=api.coord([raRight,decBottom]);
      return {type:'rect',shape:{x:a[0],y:a[1],width:b[0]-a[0],height:b[1]-a[1]},style:{fill:{image:tile,repeat:'repeat'}}};
    }},
   {type:'custom',z:1,silent:true,clip:false,coordinateSystem:'cartesian2d',
    data:contourLabels.map((l,i)=>[l[1],l[2],i]),
    renderItem(params,api){
      const i=api.value(2),l=contourLabels[i],c=api.coord([l[1],l[2]]);
      return {type:'text',x:c[0],y:c[1],rotation:l[3]*Math.PI/180,
        style:{text:l[0],fill:'#5c5c5c',font:'18px "DejaVu Sans"',align:'center',verticalAlign:'middle',textAlign:'center',textVerticalAlign:'middle',backgroundColor:labelBacks[i],padding:[-2,1]}};
    }},
   {type:'scatter',z:3,silent:true,symbol:'diamond',symbolSize:15.5,itemStyle:{color:'#0000ff',opacity:1},data:blueGalaxies},
   {type:'scatter',z:4,silent:true,symbol:'diamond',symbolSize:[26,24],itemStyle:{color:'#00ff00',opacity:1},data:specObjects},
   {type:'scatter',z:5,silent:true,symbol:'path://M0 47H100V53H0ZM47 0H53V100H47Z',symbolSize:[69,65],symbolKeepAspect:false,itemStyle:{color:'#ff0000',opacity:1},data:targetPosition}
  ]
});
</script></body></html>
